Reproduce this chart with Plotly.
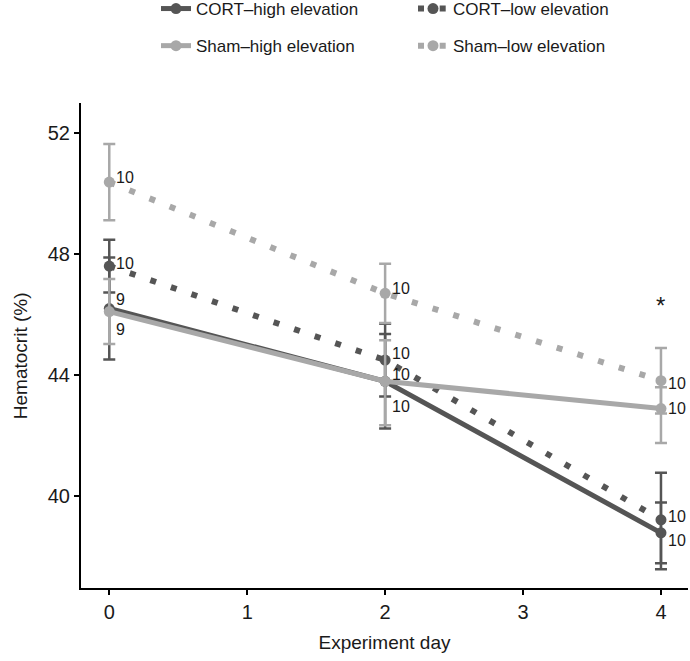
import plotly.graph_objects as go

# ---- data ----
days = [0, 2, 4]

cort_high = [46.2, 43.8, 38.8]
cort_high_up = [1.68, 1.56, 1.0]
cort_high_dn = [1.68, 1.56, 1.2]
n_cort_high = [9, 10, 10]

cort_low = [47.6, 44.5, 39.23]
cort_low_up = [0.87, 1.2, 1.55]
cort_low_dn = [0.87, 1.2, 1.43]
n_cort_low = [10, 10, 10]

sham_high = [46.1, 43.8, 42.9]
sham_high_up = [1.07, 1.35, 0.7]
sham_high_dn = [1.07, 1.45, 1.14]
n_sham_high = [9, 10, 10]

sham_low = [50.37, 46.7, 43.82]
sham_low_up = [1.26, 0.98, 1.08]
sham_low_dn = [1.26, 0.98, 1.08]
n_sham_low = [10, 10, 10]

y_ticks = [40, 44, 48, 52]
x_ticks = [0, 1, 2, 3, 4]

DARK = "#555555"
LIGHT = "#a8a8a8"
FONT = "Liberation Sans, Arial, sans-serif"
TXT = "#1a1a1a"

series = [
    dict(name="CORT–high elevation", y=cort_high, up=cort_high_up, dn=cort_high_dn, n=n_cort_high,
         color=DARK, dash="solid", width=5, legend="legend", shifts=[9, -25, -8]),
    dict(name="CORT–low elevation", y=cort_low, up=cort_low_up, dn=cort_low_dn, n=n_cort_low,
         color=DARK, dash="6px,15.7px", width=6, legend="legend2", shifts=[3, 7, 3]),
    dict(name="Sham–high elevation", y=sham_high, up=sham_high_up, dn=sham_high_dn, n=n_sham_high,
         color=LIGHT, dash="solid", width=5, legend="legend", shifts=[-18, 7, 0]),
    dict(name="Sham–low elevation", y=sham_low, up=sham_low_up, dn=sham_low_dn, n=n_sham_low,
         color=LIGHT, dash="6px,15.7px", width=6, legend="legend2", shifts=[5, 5, -3]),
]

fig = go.Figure()
annotations = []
for i, s in enumerate(series):
    fig.add_trace(go.Scatter(
        x=days, y=s["y"], name=s["name"], mode="lines+markers",
        line=dict(color=s["color"], width=s["width"], dash=s["dash"]),
        marker=dict(color=s["color"], size=11),
        error_y=dict(type="data", symmetric=False, array=s["up"], arrayminus=s["dn"],
                     color=s["color"], thickness=2.5, width=6),
        legend=s["legend"], legendgroup=f"g{i}",
    ))
    for d, v, n, sh in zip(days, s["y"], s["n"], s["shifts"]):
        annotations.append(dict(
            x=d, y=v, xref="x", yref="y", text=str(n), showarrow=False,
            xanchor="left", yanchor="middle", xshift=5, yshift=sh,
            font=dict(family=FONT, size=16, color=TXT),
        ))

# significance star above day 4 sham-low error bar
star_y = sham_low[2] + sham_low_up[2]
annotations.append(dict(
    x=days[2], y=star_y, xref="x", yref="y", text="*", showarrow=False,
    xanchor="center", yanchor="bottom", yshift=27,
    font=dict(family=FONT, size=24, color=TXT),
))

# y-axis title
annotations.append(dict(
    x=-0.1005, y=0.48, xref="paper", yref="paper", text="Hematocrit (%)", showarrow=False,
    textangle=-90, xanchor="center", yanchor="middle",
    font=dict(family=FONT, size=19, color=TXT),
))

legend_common = dict(
    orientation="v", xref="container", yref="paper", yanchor="top", xanchor="left",
    font=dict(family=FONT, size=17, color=TXT), bgcolor="rgba(0,0,0,0)",
    tracegroupgap=12, traceorder="grouped",
)

LEG_Y = 1 + 112 / 485

fig.update_layout(
    width=690, height=661,
    margin=dict(l=81, r=2, t=103, b=73, autoexpand=False),
    paper_bgcolor="white", plot_bgcolor="white",
    font=dict(family=FONT, size=18, color=TXT),
    showlegend=True,
    legend=dict(x=156 / 690, y=LEG_Y, **legend_common),
    legend2=dict(x=413 / 690, y=LEG_Y, **legend_common),
    annotations=annotations,
    xaxis=dict(
        range=[-0.205, 4.196], tickvals=x_ticks, showgrid=False, zeroline=False,
        showline=True, linecolor="black", linewidth=2, ticks="outside", ticklen=5,
        tickwidth=2, tickcolor="black", tickfont=dict(family=FONT, size=20, color=TXT),
        title=dict(text="Experiment day", font=dict(family=FONT, size=19, color=TXT), standoff=14),
    ),
    yaxis=dict(
        range=[36.98, 52.98], tickvals=y_ticks, showgrid=False, zeroline=False,
        showline=True, linecolor="black", linewidth=2, ticks="outside", ticklen=5,
        tickwidth=2, tickcolor="black", tickfont=dict(family=FONT, size=20, color=TXT),
    ),
)

fig.write_html("out.html", config={"displayModeBar": False},
               post_script="document.body.style.margin='0px';")
